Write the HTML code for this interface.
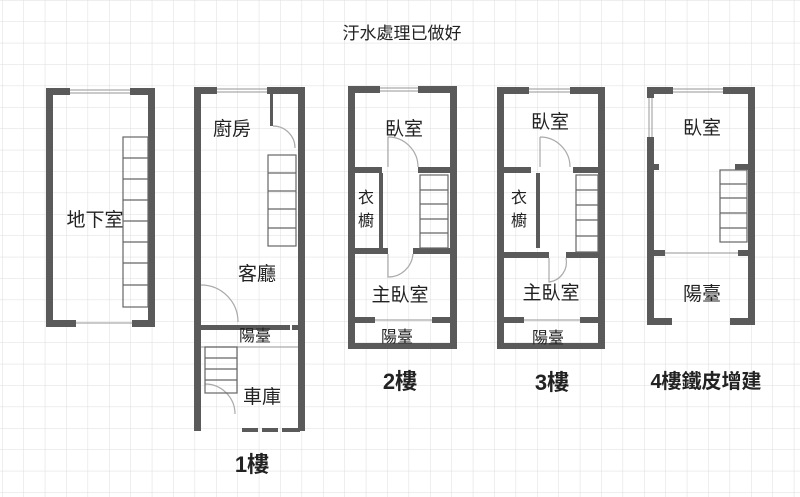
<!DOCTYPE html>
<html><head><meta charset="utf-8"><style>
body{margin:0;background:#fff}
svg{display:block}
text{font-family:"Liberation Sans","Noto Sans CJK TC",sans-serif;fill:#222}
</style></head><body>
<svg width="800" height="497" viewBox="0 0 800 497" xmlns="http://www.w3.org/2000/svg">
<defs>
<pattern id="g" x="2.5" y="0.5" width="21.4" height="21.4" patternUnits="userSpaceOnUse">
<path d="M21.4 0V21.4M0 21.4H21.4" stroke="#dcdcdc" stroke-width="1" fill="none"/>
</pattern>
</defs>
<rect width="800" height="497" fill="#fff"/>
<rect width="800" height="497" fill="url(#g)"/>
<text x="402" y="39" font-size="17" text-anchor="middle" fill="#444">汙水處理已做好</text>

<g fill="#5a5a5a">
<rect x="46" y="88" width="24" height="7"/><rect x="130" y="88" width="25" height="7"/>
<rect x="46" y="88" width="7" height="239"/><rect x="148" y="88" width="7" height="239"/>
<rect x="46" y="320" width="30" height="7"/><rect x="132" y="320" width="23" height="7"/>
<rect x="194" y="87" width="23" height="7"/><rect x="267" y="87" width="38" height="7"/>
<rect x="194" y="87" width="7" height="344"/><rect x="298" y="87" width="7" height="344"/>
<rect x="270" y="94" width="3" height="32"/>
<rect x="194" y="325" width="96" height="5"/><rect x="292" y="325" width="6" height="5"/>
<rect x="242" y="428" width="16" height="4"/><rect x="262" y="428" width="16" height="4"/><rect x="282" y="428" width="18" height="4"/>
<rect x="348" y="86" width="32" height="7"/><rect x="418" y="86" width="39" height="7"/>
<rect x="348" y="86" width="7" height="263"/><rect x="450" y="86" width="7" height="263"/>
<rect x="348" y="343" width="109" height="6"/>
<rect x="348" y="167" width="34" height="6"/><rect x="418" y="167" width="39" height="6"/>
<rect x="379" y="173" width="4" height="75"/>
<rect x="348" y="248" width="40" height="6"/><rect x="413" y="248" width="44" height="6"/>
<rect x="348" y="317" width="27" height="6"/><rect x="432" y="317" width="25" height="6"/>
<rect x="497" y="87" width="32" height="7"/><rect x="570" y="87" width="35" height="7"/>
<rect x="497" y="87" width="7" height="262"/><rect x="598" y="87" width="7" height="262"/>
<rect x="497" y="343" width="108" height="6"/>
<rect x="497" y="167" width="34" height="6"/><rect x="573" y="167" width="32" height="6"/>
<rect x="536" y="173" width="4" height="75"/>
<rect x="497" y="252" width="52" height="6"/><rect x="566" y="252" width="39" height="6"/>
<rect x="497" y="317" width="27" height="6"/><rect x="580" y="317" width="25" height="6"/>
<rect x="647" y="87" width="26" height="7"/><rect x="723" y="87" width="32" height="7"/>
<rect x="647" y="87" width="7" height="11"/><rect x="647" y="137" width="7" height="188"/>
<rect x="748" y="87" width="7" height="238"/>
<rect x="647" y="318" width="25" height="7"/><rect x="730" y="318" width="25" height="7"/>
<rect x="654" y="164" width="5" height="6"/><rect x="735" y="164" width="13" height="6"/>
<rect x="654" y="250" width="11" height="6"/><rect x="738" y="250" width="10" height="6"/>
</g>

<g fill="none" stroke="#aaa" stroke-width="1.2">
<line x1="70" y1="90" x2="130" y2="90"/><line x1="70" y1="93" x2="130" y2="93"/>
<line x1="76" y1="323" x2="132" y2="323"/>
<line x1="217" y1="89" x2="267" y2="89"/><line x1="217" y1="92" x2="267" y2="92"/>
<line x1="380" y1="88" x2="418" y2="88"/><line x1="380" y1="91" x2="418" y2="91"/>
<line x1="375" y1="320" x2="432" y2="320"/>
<line x1="529" y1="89" x2="570" y2="89"/><line x1="529" y1="92" x2="570" y2="92"/>
<line x1="524" y1="320" x2="580" y2="320"/>
<line x1="673" y1="89" x2="723" y2="89"/><line x1="673" y1="92" x2="723" y2="92"/>
<line x1="649" y1="98" x2="649" y2="137"/><line x1="652" y1="98" x2="652" y2="137"/>
<line x1="665" y1="253" x2="738" y2="253"/>
<line x1="201" y1="347" x2="298" y2="347"/>
<path d="M273 126 A22 22 0 0 1 295 148"/>
<path d="M201 285 A37 37 0 0 1 238 322"/>
<path d="M205 384 A30 30 0 0 1 235 414"/>
<path d="M388 137 A30 30 0 0 1 418 167 M388 137 V167"/>
<path d="M388 254 V277 A25 25 0 0 0 413 254"/>
<path d="M540 137 A30 30 0 0 1 570 167 M540 137 V167"/>
<path d="M549 258 V282 A20 20 0 0 0 566 258"/>
<g stroke="#666">
<rect x="123" y="137" width="25" height="170"/>
<path d="M123 158H148M123 179H148M123 200H148M123 221H148M123 242H148M123 263H148M123 285H148"/>
<rect x="268" y="155" width="28" height="91"/>
<path d="M268 173H296M268 191H296M268 209H296M268 228H296"/>
<rect x="205" y="347" width="32" height="46"/>
<path d="M205 358H237M205 369H237M205 380H237"/>
<rect x="420" y="175" width="28" height="73"/>
<path d="M420 190H448M420 204H448M420 219H448M420 233H448"/>
<rect x="576" y="175" width="22" height="77"/>
<path d="M576 190H598M576 205H598M576 220H598M576 236H598"/>
<rect x="720" y="170" width="27" height="72"/>
<path d="M720 184H747M720 198H747M720 213H747M720 228H747"/>
</g>
</g>

<g font-size="19">
<text x="95" y="226" text-anchor="middle">地下室</text>
<text x="232" y="135" text-anchor="middle">廚房</text>
<text x="257" y="280" text-anchor="middle">客廳</text>
<text x="255" y="341" text-anchor="middle" font-size="16">陽臺</text>
<text x="262" y="403" text-anchor="middle">車庫</text>
<text x="404" y="135" text-anchor="middle">臥室</text>
<text x="400" y="301" text-anchor="middle">主臥室</text>
<text x="397" y="342" text-anchor="middle" font-size="16">陽臺</text>
<text x="550" y="128" text-anchor="middle">臥室</text>
<text x="551" y="299" text-anchor="middle">主臥室</text>
<text x="548" y="343" text-anchor="middle" font-size="16">陽臺</text>
<text x="702" y="134" text-anchor="middle">臥室</text>
<text x="702" y="300" text-anchor="middle">陽臺</text>
</g>
<g font-size="16">
<text x="366" y="203" text-anchor="middle">衣</text><text x="366" y="226" text-anchor="middle">櫥</text>
<text x="519" y="203" text-anchor="middle">衣</text><text x="519" y="226" text-anchor="middle">櫥</text>
</g>
<g font-size="22" font-weight="bold" fill="#111">
<text x="252" y="472" text-anchor="middle">1樓</text>
<text x="400" y="389" text-anchor="middle">2樓</text>
<text x="552" y="390" text-anchor="middle">3樓</text>
<text x="706" y="388" text-anchor="middle" font-size="20">4樓鐵皮增建</text>
</g>
</svg>
</body></html>
